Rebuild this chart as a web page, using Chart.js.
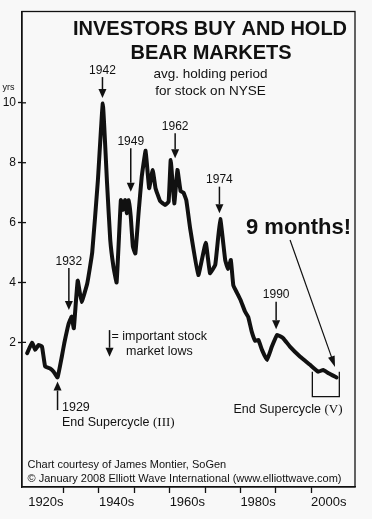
<!DOCTYPE html>
<html>
<head>
<meta charset="utf-8">
<script src="https://cdn.jsdelivr.net/npm/chart.js@4.4.1/dist/chart.umd.min.js"></script>
<style>
  html, body { margin: 0; padding: 0; background: #f8f8f8; }
  #wrap { width: 372px; height: 519px; }
</style>
</head>
<body>
<div id="wrap"><canvas id="holding"></canvas></div>
<script>
// avg. holding period for stock on NYSE (yrs)
var years = [
  1919.7, 1921.1, 1922.0, 1922.9, 1923.9, 1924.8, 1926.2, 1927.2, 1928.3, 1929.5,
  1930.2, 1931.0, 1931.5, 1932.3, 1932.9, 1934.0, 1935.1, 1936.7, 1938.1, 1939.7,
  1941.1, 1942.3, 1943.2, 1944.1, 1945.0, 1946.2, 1946.8, 1947.4, 1947.9, 1948.4,
  1949.0, 1949.6, 1950.3, 1951.2, 1952.1, 1953.2, 1954.2, 1955.2, 1956.0, 1957.3,
  1958.7, 1959.7, 1960.3, 1961.3, 1962.2, 1963.1, 1963.9, 1964.7, 1965.8, 1968.1,
  1970.2, 1971.4, 1972.9, 1974.3, 1975.7, 1976.5, 1977.3, 1978.0, 1979.1, 1980.1,
  1981.3, 1982.2, 1983.2, 1984.2, 1985.1, 1986.1, 1987.5, 1988.9, 1990.4, 1992.1,
  1994.0, 1996.9, 1999.7, 2002.0, 2003.4, 2004.9, 2007.2,
];
var holding = [
  1.64, 1.99, 1.75, 1.91, 1.86, 1.19, 1.13, 1.02, 0.83, 1.52,
  1.97, 2.41, 2.64, 2.86, 2.47, 4.06, 3.35, 3.97, 5.0, 7.4,
  9.98, 7.31, 5.42, 4.53, 4.0, 6.75, 6.42, 6.75, 6.31, 6.75,
  6.2, 5.2, 4.97, 6.31, 7.53, 8.4, 7.15, 7.76, 7.15, 6.72,
  6.59, 6.7, 8.09, 6.64, 7.76, 7.05, 7.0, 6.75, 5.8, 4.25,
  5.33, 4.31, 4.6, 6.12, 4.75, 4.45, 4.75, 3.9, 3.64, 3.4,
  3.03, 2.85, 2.36, 2.05, 2.08, 1.75, 1.41, 1.86, 2.25, 2.14,
  1.86, 1.52, 1.25, 1.02, 1.08, 0.97, 0.83,
];

var yTicks = [2, 4, 6, 8, 10];
var decadeTicks = [1930, 1940, 1950, 1960, 1970, 1980, 1990, 2000];
var decadeLabels = { 1925: "1920s", 1945: "1940s", 1965: "1960s", 1985: "1980s", 2005: "2000s" };

// "important stock market lows" arrows: x, tip, top of shaft
var lowLabels = ["1932", "1942", "1949", "1962", "1974", "1990"];
var lowYears = [1931.5, 1941.0, 1949.0, 1961.55, 1974.07, 1990.1];
var lowTips = [3.08, 10.16, 7.03, 8.15, 6.31, 2.44];
var lowTops = [4.48, 10.86, 8.48, 8.98, 7.2, 3.36];

var ff = "'Liberation Sans', Arial, Helvetica, sans-serif";
var serif = "'Liberation Serif', 'Times New Roman', serif";

function arrow(c, x, yFrom, yTo, head, half) {
  var dir = yTo > yFrom ? 1 : -1;
  c.beginPath();
  c.moveTo(x, yFrom);
  c.lineTo(x, yTo - dir * head);
  c.stroke();
  c.beginPath();
  c.moveTo(x, yTo);
  c.lineTo(x - half, yTo - dir * head);
  c.lineTo(x + half, yTo - dir * head);
  c.closePath();
  c.fill();
}

var overlay = {
  id: "overlay",
  afterDraw: function (chart) {
    var c = chart.ctx;
    var a = chart.chartArea;
    var xs = chart.scales.x;
    var ys = chart.scales.y;
    var px = function (v) { return xs.getPixelForValue(v); };
    var py = function (v) { return ys.getPixelForValue(v); };
    c.save();
    c.strokeStyle = "#111";
    c.fillStyle = "#111";

    // frame + inner half of y ticks
    c.lineWidth = 1.3;
    c.strokeRect(a.left, a.top, a.right - a.left, a.bottom - a.top);
    yTicks.forEach(function (v) {
      c.beginPath();
      c.moveTo(a.left, py(v));
      c.lineTo(a.left + 4, py(v));
      c.stroke();
    });

    // titles
    c.textAlign = "center";
    c.textBaseline = "alphabetic";
    c.font = "bold 20px " + ff;
    c.fillText("INVESTORS BUY AND HOLD", 210, 35);
    c.fillText("BEAR MARKETS", 211, 59);
    c.font = "13.5px " + ff;
    c.fillText("avg. holding period", 210.5, 77.5);
    c.fillText("for stock on NYSE", 210.5, 94.5);

    c.textAlign = "left";
    c.font = "9px " + ff;
    c.fillText("yrs", 2.5, 89.5);

    // low arrows
    c.lineWidth = 1.5;
    c.font = "12px " + ff;
    c.textAlign = "center";
    for (var i = 0; i < lowLabels.length; i++) {
      var x = px(lowYears[i]);
      arrow(c, x, py(lowTops[i]), py(lowTips[i]), 9, 4);
      c.fillText(lowLabels[i], x, py(lowTops[i]) - 3.5);
    }

    // legend arrow
    arrow(c, px(1943.0), py(2.41), py(1.52), 9, 4);
    c.textAlign = "left";
    c.font = "12.5px " + ff;
    c.fillText("= important stock", 111.5, 340);
    c.fillText("market lows", 126, 355);

    // 1929 up arrow
    arrow(c, px(1928.3), py(-0.26), py(0.69), 9, 4);
    c.fillText("1929", 62, 411);
    var t = "End Supercycle ";
    c.fillText(t, 62, 425.5);
    var w = c.measureText(t).width;
    c.font = "13px " + serif;
    c.fillText("(III)", 62 + w, 425.5);

    // end supercycle V bracket
    c.lineWidth = 1.3;
    c.beginPath();
    c.moveTo(px(2000.34), py(1.02));
    c.lineTo(px(2000.34), py(0.19));
    c.lineTo(px(2007.97), py(0.19));
    c.lineTo(px(2007.97), py(1.02));
    c.stroke();
    c.font = "12.5px " + ff;
    t = "End Supercycle ";
    c.fillText(t, 233.5, 413);
    w = c.measureText(t).width;
    c.font = "13px " + serif;
    c.fillText("(V)", 233.5 + w, 413);

    // 9 months!
    c.font = "bold 22px " + ff;
    c.fillText("9 months!", 246, 233.5);
    var x0 = px(1994.04), y0 = py(5.42), x1 = px(2006.75), y1 = py(1.18);
    var ang = Math.atan2(y1 - y0, x1 - x0);
    c.lineWidth = 1.2;
    c.beginPath();
    c.moveTo(x0, y0);
    c.lineTo(x1 - 8 * Math.cos(ang), y1 - 8 * Math.sin(ang));
    c.stroke();
    c.beginPath();
    c.moveTo(x1, y1);
    c.lineTo(x1 - 11 * Math.cos(ang) + 3.5 * Math.sin(ang), y1 - 11 * Math.sin(ang) - 3.5 * Math.cos(ang));
    c.lineTo(x1 - 11 * Math.cos(ang) - 3.5 * Math.sin(ang), y1 - 11 * Math.sin(ang) + 3.5 * Math.cos(ang));
    c.closePath();
    c.fill();

    // credits
    c.font = "11px " + ff;
    c.fillText("Chart courtesy of James Montier, SoGen", 27.5, 468);
    c.fillText("\u00a9 January 2008 Elliott Wave International (www.elliottwave.com)", 27.5, 481.5);
    c.restore();
  },
};

var ctx = document.getElementById("holding").getContext("2d");
var myChart = new Chart(ctx, {
  type: "line",
  data: {
    datasets: [
      {
        label: "avg. holding period",
        data: years.map(function (y, i) { return { x: y, y: holding[i] }; }),
        borderColor: "#111",
        borderWidth: 4,
        borderJoinStyle: "round",
        borderCapStyle: "round",
        pointRadius: 0,
        fill: false,
        tension: 0.1,
      },
    ],
  },
  options: {
    responsive: true,
    maintainAspectRatio: false,
    animation: false,
    layout: { padding: { left: 0, top: 11.5, right: 17, bottom: 0 } },
    plugins: { legend: { display: false }, tooltip: { enabled: false } },
    scales: {
      x: {
        type: "linear",
        min: 1918.25,
        max: 2012.4,
        afterBuildTicks: function (axis) {
          var v = decadeTicks.concat([1925, 1945, 1965, 1985, 2005]).sort();
          axis.ticks = v.map(function (t) { return { value: t }; });
        },
        afterFit: function (axis) { axis.height = 32; },
        grid: {
          drawOnChartArea: false,
          tickLength: 6,
          tickWidth: 1.3,
          tickColor: function (c) {
            return c.tick && c.tick.value % 10 === 0 ? "#111" : "rgba(0,0,0,0)";
          },
        },
        border: { color: "#111", width: 1.3 },
        ticks: {
          autoSkip: false,
          maxRotation: 0,
          padding: 2,
          color: "#111",
          font: { family: ff, size: 13 },
          callback: function (v) { return decadeLabels[v] || ""; },
        },
      },
      y: {
        min: -2.83,
        max: 13.05,
        afterBuildTicks: function (axis) {
          axis.ticks = yTicks.map(function (t) { return { value: t }; });
        },
        afterFit: function (axis) { axis.width = 22; },
        grid: { drawOnChartArea: false, tickLength: 4, tickWidth: 1.3, tickColor: "#111" },
        border: { color: "#111", width: 1.3 },
        ticks: {
          padding: 2,
          color: "#111",
          font: { family: ff, size: 12 },
        },
      },
    },
  },
  plugins: [overlay],
});
</script>
</body>
</html>
